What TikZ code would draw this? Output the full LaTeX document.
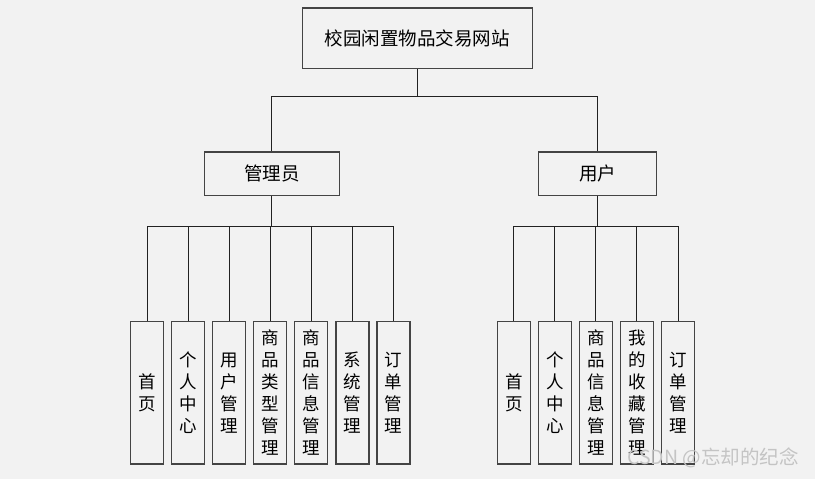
\documentclass[tikz,border=0pt]{standalone}
\usepackage{fontspec}
\setmainfont{Noto Sans CJK SC}
\definecolor{bgc}{HTML}{F2F2F2}
\definecolor{linec}{HTML}{222222}
\definecolor{boxc}{HTML}{444444}
\definecolor{wmc}{HTML}{C4C4C4}
\begin{document}
\begin{tikzpicture}[x=1pt,y=-1pt,
  box/.style={draw=boxc, fill=bgc, line width=1.4pt, inner sep=0pt, align=center},
  leaf/.style={box, minimum width=33pt, minimum height=142.3pt, font=\fontsize{17.5}{22}\selectfont},
  conn/.style={draw=linec, line width=1pt}]
\fill[bgc] (0,0) rectangle (815,479);
\useasboundingbox (0,0) rectangle (815,479);
% main boxes
\node[box, minimum width=230pt, minimum height=60.7pt, font=\fontsize{18.5}{20}\selectfont] (top) at (417.3,38.3) {校园闲置物品交易网站};
\node[box, minimum width=135pt, minimum height=43.3pt, font=\fontsize{18.5}{20}\selectfont] (admin) at (271.8,173.6) {管理员};
\node[box, minimum width=117.6pt, minimum height=43.3pt, font=\fontsize{18.5}{20}\selectfont] (user) at (597.5,173.6) {用户};
% admin leaves
\node[leaf] (a1) at (147.2,392.8) {首\\页};
\node[leaf] (a2) at (188.2,392.8) {个\\人\\中\\心};
\node[leaf] (a3) at (229.2,392.8) {用\\户\\管\\理};
\node[leaf] (a4) at (270.2,392.8) {商\\品\\类\\型\\管\\理};
\node[leaf] (a5) at (311.2,392.8) {商\\品\\信\\息\\管\\理};
\node[leaf] (a6) at (352.4,392.8) {系\\统\\管\\理};
\node[leaf] (a7) at (393.5,392.8) {订\\单\\管\\理};
% user leaves
\node[leaf] (u1) at (513.8,392.8) {首\\页};
\node[leaf] (u2) at (554.8,392.8) {个\\人\\中\\心};
\node[leaf] (u3) at (595.8,392.8) {商\\品\\信\\息\\管\\理};
\node[leaf] (u4) at (636.8,392.8) {我\\的\\收\\藏\\管\\理};
\node[leaf] (u5) at (678.2,392.8) {订\\单\\管\\理};
% bus coordinates
\coordinate (b0) at (417.5,96.7);
\coordinate (ba) at (272,226.7);
\coordinate (bu) at (597,226.7);
% connectors
\draw[conn] (top.south) -- (top.south |- b0);
\draw[conn] (admin.north) -- (admin.north |- b0) -- (user.north |- b0) -- (user.north);
\draw[conn] (admin.south) -- (admin.south |- ba);
\draw[conn] (a1.north) -- (a1.north |- ba) -- (a7.north |- ba) -- (a7.north);
\foreach \n in {a2,a3,a4,a5,a6} \draw[conn] (\n.north) -- (\n.north |- ba);
\draw[conn] (user.south) -- (user.south |- bu);
\draw[conn] (u1.north) -- (u1.north |- bu) -- (u5.north |- bu) -- (u5.north);
\foreach \n in {u2,u3,u4} \draw[conn] (\n.north) -- (\n.north |- bu);
% watermark
\node[text=wmc, font=\fontsize{19.5}{21}\selectfont, inner sep=0pt] (wm) at (713,458) {CSDN @忘却的纪念};
\end{tikzpicture}
\end{document}
